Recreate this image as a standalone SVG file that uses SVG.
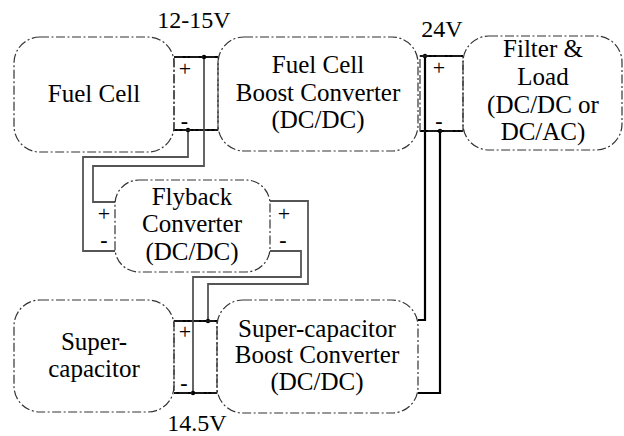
<svg xmlns="http://www.w3.org/2000/svg" width="624" height="436" viewBox="0 0 624 436" font-family="Liberation Serif, serif">
<style>
.box{fill:none;stroke:#333;stroke-width:1.2;stroke-dasharray:9 2.5 2 2.5}
.term{fill:none;stroke:#333;stroke-width:1.2;stroke-dasharray:9 2.5 2 2.5}
.lbl{font-size:25px}
.volt{font-size:24px}
.plus{font-size:22px}
.minus{font-size:22px;font-weight:bold}
.bus{fill:none;stroke:#000;stroke-width:2.2}
.wire{fill:none;stroke:#555;stroke-width:1.8}
.dot{fill:#000}
</style>
<rect width="624" height="436" fill="#fff"/>

<g id="connectors">
  <line class="bus" x1="174" y1="57" x2="218" y2="57"/>
  <line class="bus" x1="174" y1="130" x2="218" y2="130"/>
  <line class="bus" x1="420" y1="56" x2="463" y2="56"/>
  <line class="bus" x1="420" y1="131" x2="463" y2="131"/>
  <line class="bus" x1="174" y1="321" x2="217" y2="321"/>
  <line class="bus" x1="174" y1="393" x2="217" y2="393"/>
  <polyline class="wire" points="204,57 204,166 93,166 93,202 115,202"/>
  <polyline class="wire" points="188,130 188,157 83,157 83,251 115,251"/>
  <polyline class="wire" points="270,201 308,201 308,284 208,284 208,321"/>
  <polyline class="wire" points="270,251 301,251 301,277 193,277 193,393"/>
  <polyline class="bus" points="425,56 425,320 418,320"/>
  <polyline class="bus" points="440,131 440,393 418,393"/>
  <circle class="dot" cx="204" cy="57" r="2.2"/>
  <circle class="dot" cx="188" cy="130" r="2.2"/>
  <circle class="dot" cx="425" cy="56" r="2.2"/>
  <circle class="dot" cx="440" cy="131" r="2.2"/>
  <circle class="dot" cx="208" cy="321" r="2.2"/>
  <circle class="dot" cx="193" cy="393" r="2.2"/>
</g>

<g id="fuel-cell" text-anchor="middle" font-family="Liberation Serif, serif">
  <rect class="box" x="14" y="37" width="160" height="115" rx="26"/>
  <text class="lbl" x="94" y="102">Fuel Cell</text>
</g>

<g id="fc-terminals" text-anchor="middle" font-family="Liberation Serif, serif">
  <rect class="term" x="174" y="57" width="44" height="73"/>
  <text class="plus" x="185" y="76">+</text>
  <text class="minus" x="184.5" y="128">-</text>
</g>

<g id="fc-boost" text-anchor="middle" font-family="Liberation Serif, serif">
  <rect class="box" x="218" y="37" width="200" height="114" rx="26"/>
  <text class="lbl" x="318" y="73">Fuel Cell</text>
  <text class="lbl" x="318" y="101">Boost Converter</text>
  <text class="lbl" x="318" y="128">(DC/DC)</text>
</g>

<g id="load-terminals" text-anchor="middle" font-family="Liberation Serif, serif">
  <rect class="term" x="420" y="56" width="43" height="75"/>
  <text class="plus" x="439" y="75">+</text>
  <text class="minus" x="439" y="128">-</text>
</g>

<g id="filter-load" text-anchor="middle" font-family="Liberation Serif, serif">
  <rect class="box" x="463" y="36" width="159" height="114" rx="26"/>
  <text class="lbl" x="543" y="57">Filter &amp;</text>
  <text class="lbl" x="543" y="85">Load</text>
  <text class="lbl" x="543" y="113">(DC/DC or</text>
  <text class="lbl" x="543" y="140">DC/AC)</text>
</g>

<g id="flyback" text-anchor="middle" font-family="Liberation Serif, serif">
  <rect class="box" x="115" y="180" width="155" height="92" rx="24"/>
  <text class="lbl" x="192" y="205">Flyback</text>
  <text class="lbl" x="192" y="232">Converter</text>
  <text class="lbl" x="192" y="260">(DC/DC)</text>
  <text class="plus" x="104" y="221">+</text>
  <text class="minus" x="104" y="247">-</text>
  <text class="plus" x="284" y="221">+</text>
  <text class="minus" x="283" y="247">-</text>
</g>

<g id="supercap" text-anchor="middle" font-family="Liberation Serif, serif">
  <rect class="box" x="14" y="300" width="160" height="112" rx="26"/>
  <text class="lbl" x="94" y="350">Super-</text>
  <text class="lbl" x="94" y="377">capacitor</text>
</g>

<g id="sc-terminals" text-anchor="middle" font-family="Liberation Serif, serif">
  <rect class="term" x="174" y="321" width="43" height="72"/>
  <text class="plus" x="185" y="339">+</text>
  <text class="minus" x="184" y="390">-</text>
</g>

<g id="sc-boost" text-anchor="middle" font-family="Liberation Serif, serif">
  <rect class="box" x="217" y="300" width="201" height="113" rx="26"/>
  <text class="lbl" x="317" y="337">Super-capacitor</text>
  <text class="lbl" x="317" y="363">Boost Converter</text>
  <text class="lbl" x="317" y="390">(DC/DC)</text>
</g>

<g id="voltages" text-anchor="middle" font-family="Liberation Serif, serif">
  <text class="volt" x="194" y="28">12-15V</text>
  <text class="volt" x="442" y="37">24V</text>
  <text class="volt" x="197" y="431">14.5V</text>
</g>
</svg>
